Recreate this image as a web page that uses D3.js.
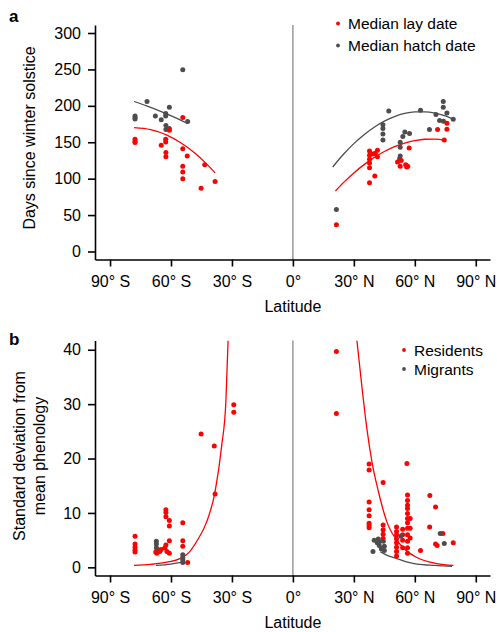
<!DOCTYPE html>
<html>
<head>
  <meta charset="utf-8">
  <title>Phenology by latitude</title>
  <script src="https://d3js.org/d3.v7.min.js"></script>
  <style>
    body { margin: 0; background: #fff; }
    text { font-family: "Liberation Sans", Arial, Helvetica, sans-serif; }
  </style>
</head>
<body>
  <div id="chart"></div>

  <script>
    // ---- data: [latitude, value] ----
    var xTicks = [-90, -60, -30, 0, 30, 60, 90];
    var xTickLabels = ['90° S', '60° S', '30° S', '0°', '30° N', '60° N', '90° N'];
    var yTicksA = [0, 50, 100, 150, 200, 250, 300];
    var yTicksB = [0, 10, 20, 30, 40];

    // panel a: median lay date (red)
    var layDate = [
      [-54.2, 184], [-60.8, 166.5], [-77.7, 154], [-77.7, 151.5], [-77.7, 149.6],
      [-62.6, 154], [-62.6, 150.4], [-64.8, 146], [-62.5, 136], [-62.5, 130],
      [-54.2, 141], [-52, 131], [-54.2, 117], [-54.2, 109], [-54.2, 100],
      [-43.4, 119], [-45.2, 87], [-38.3, 96],
      [21.4, 36.7], [37.7, 138], [37.7, 132], [37.7, 126.6], [37.7, 121.5], [37.7, 115],
      [37.7, 94.5], [39.4, 134], [41.6, 139], [41.6, 130], [40.5, 135], [40.3, 103.6],
      [51.5, 123], [53.3, 125], [52.8, 117], [55.5, 119], [56.5, 117], [56, 116],
      [57.2, 142], [71.2, 167.5], [75.8, 176], [75.8, 168], [74.5, 153]
    ];
    // panel a: median hatch date (grey)
    var hatchDate = [
      [-54.2, 249.5], [-71.8, 206], [-60.8, 198], [-77.7, 186], [-77.7, 183.5], [-77.7, 182],
      [-67.7, 186], [-62.6, 189.5], [-62.6, 186], [-64.8, 181], [-62.5, 173], [-62.5, 167.5],
      [-60.8, 169], [-51.8, 178.5],
      [21.4, 57.8], [47.2, 193], [44.3, 174], [44.3, 169], [44.3, 161.5], [44.3, 153],
      [62.8, 194], [52.8, 150], [52.8, 143], [52.8, 131], [52.5, 127.5], [55.1, 164],
      [54.1, 158], [57.4, 162], [67.2, 167.5], [70.4, 188], [74, 206], [74, 198],
      [75.8, 190], [72.2, 180], [74.1, 179], [78.9, 181.6]
    ];
    // panel a fitted curves
    var layFitS = [[-78.2, 170], [-70, 167.3], [-62, 159.8], [-55, 148.9], [-48, 134.4], [-43, 121.7], [-38.3, 108]];
    var layFitN = [[20.9, 83], [25, 94.9], [30, 107.9], [35, 119.3], [40, 129.1], [45, 137.3], [50, 144],
                   [55, 148.9], [60, 152.3], [65, 154.1], [70, 154.3], [74.5, 153]];
    var hatchFitS = [[-78.2, 206], [-72, 199.9], [-66, 193.5], [-60.5, 187], [-56, 181.4], [-51.8, 175.7]];
    var hatchFitN = [[19.6, 116], [25, 133.8], [30, 148.1], [35, 160.4], [40, 170.7], [45, 179], [50, 185.2],
                     [55, 189.5], [60, 191.6], [65, 191.8], [70, 190], [75, 186.1], [79, 181.5]];

    // panel b: residents (red)
    var residents = [
      [-29.1, 29.9], [-29.1, 28.5], [-45.2, 24.5], [-38.7, 22.3], [-38.3, 13.5],
      [-62.5, 10.6], [-62.5, 10.1], [-62.5, 9.3], [-60.8, 8.6], [-60.8, 7.6], [-54.2, 8.2],
      [-77.7, 5.7], [-77.7, 4.3], [-77.7, 3.7], [-77.7, 3.2], [-77.7, 2.8],
      [-54.2, 4.9], [-54.2, 3.9], [-60.8, 4.9], [-62.5, 4.1], [-67.5, 2.8], [-66.5, 3.3],
      [-64.8, 3.3], [-63, 3.6], [-62, 2.9], [-60.8, 2.6], [-65.5, 2.9], [-67, 2.6], [-51.8, 0.9],
      [21.4, 39.7], [21.4, 28.3], [37.5, 19], [37.5, 17.9], [56.1, 19.1], [44.4, 15.6],
      [37.5, 12], [37.5, 10.6], [37.5, 9.5], [37.5, 8.1], [37.5, 7.7], [37.5, 7.3],
      [67.4, 13.2], [70.2, 11.1], [67.3, 7.4],
      [56.4, 13.3], [56.4, 12.3], [56.4, 11.4], [56.4, 10.8], [56.4, 9.9], [56.4, 9.0],
      [56.4, 8.2], [56.4, 7.2], [56.4, 6.0], [56.4, 4.8], [56.4, 3.6], [56.4, 2.6],
      [57.7, 9], [57.7, 7.2], [57.7, 5.4],
      [51, 7.4], [51, 6.6], [51, 6.0], [51, 5.2], [51, 4.5], [51, 3.7], [51, 2.9], [51, 2.1],
      [54, 7], [54, 6], [54, 5], [54, 3.6],
      [44.4, 7.8], [44.4, 6.9], [44.4, 6.1], [44.4, 5.3],
      [71, 4.0], [70.2, 4.3], [73.8, 6.2], [78.9, 4.5], [62.8, 3.1]
    ];
    // panel b: migrants (grey)
    var migrants = [
      [-67.2, 4.8], [-67.2, 4.3], [-67.2, 3.6], [-54.2, 2.3], [-54.2, 1.8], [-54.2, 1.4], [-54.2, 0.9],
      [39.4, 2.9], [40, 5.0], [42, 5.2], [41.5, 4.5], [42.5, 4.0], [43.5, 3.4], [44.5, 4.8],
      [45, 3.9], [45, 3.1], [42.5, 4.7], [53.1, 5.7], [72.5, 6.2], [74.5, 4.4]
    ];
    // panel b fitted curves
    var resFitS = [[-78.2, 0.35], [-70, 0.55], [-62, 0.95], [-55.6, 1.6], [-51, 2.8], [-47.3, 4.8],
                   [-42.4, 8.4], [-38.3, 13.9], [-35, 22.5], [-33, 30.4], [-31.9, 41.7]];
    var resFitN = [[31.5, 41.7], [33.9, 33.4], [36.4, 25.5], [38.9, 19.4], [42.1, 13.9], [46.2, 8.4],
                   [52.8, 4.2], [61, 1.8], [70.8, 0.7], [79, 0.37]];
    var migFitS = [[-67.4, 0.37], [-60, 0.6], [-53.9, 1.0]];
    var migFitN = [[43, 2.9], [47, 2.1], [51.2, 1.6], [56, 1.0], [61, 0.6], [70, 0.35], [78.3, 0.2]];

    var RED = '#ff0000';
    var GREY = '#4d4d4d';

    var svg = d3.select('#chart').append('svg')
      .attr('width', 497)
      .attr('height', 632);

    var x = d3.scaleLinear().domain([-97.4, 97]).range([95, 490]);
    var yA = d3.scaleLinear().domain([-11, 311]).range([259.5, 25]);
    var yB = d3.scaleLinear().domain([-1.5, 41.7]).range([575.5, 340.5]);

    function drawPanel(y, yTicks, opts) {
      var g = svg.append('g');
      var top = y.range()[1], bottom = y.range()[0];

      g.append('clipPath').attr('id', opts.id)
        .append('rect')
        .attr('x', 95).attr('y', top)
        .attr('width', 395).attr('height', bottom - top);

      // vertical line at the equator
      g.append('line')
        .attr('x1', x(0)).attr('x2', x(0))
        .attr('y1', top).attr('y2', bottom)
        .attr('stroke', '#666').attr('stroke-width', 1);

      var plot = g.append('g').attr('clip-path', 'url(#' + opts.id + ')');
      var line = d3.line()
        .x(function(d) { return x(d[0]); })
        .y(function(d) { return y(d[1]); })
        .curve(d3.curveMonotoneX);

      opts.fits.forEach(function(f) {
        plot.append('path')
          .attr('d', line(f.data))
          .attr('fill', 'none')
          .attr('stroke', f.color)
          .attr('stroke-width', 1.3);
      });

      opts.points.forEach(function(p) {
        plot.selectAll(null)
          .data(p.data)
          .enter()
          .append('circle')
          .attr('cx', function(d) { return x(d[0]); })
          .attr('cy', function(d) { return y(d[1]); })
          .attr('r', 2.5)
          .attr('fill', p.color);
      });

      var xAxis = g.append('g')
        .attr('transform', 'translate(0,' + bottom + ')')
        .call(d3.axisBottom(x).tickValues(xTicks)
          .tickFormat(function(d, i) { return xTickLabels[i]; })
          .tickSize(7).tickSizeOuter(0).tickPadding(9));
      var yAxis = g.append('g')
        .attr('transform', 'translate(95,0)')
        .call(d3.axisLeft(y).tickValues(yTicks).tickSize(7).tickSizeOuter(0).tickPadding(7));

      [xAxis, yAxis].forEach(function(a) {
        a.selectAll('path, line').attr('stroke', '#000').attr('stroke-width', 1.6);
        a.selectAll('text').attr('font-size', '16px').attr('fill', '#000')
          .attr('font-family', '"Liberation Sans", Arial, sans-serif');
      });

      g.append('text')
        .attr('x', x(0))
        .attr('y', bottom + 52)
        .attr('text-anchor', 'middle')
        .attr('font-size', '16px')
        .text('Latitude');

      opts.ylabel.forEach(function(l) {
        g.append('text')
          .attr('transform', 'translate(' + l.x + ',' + opts.ylabelY + ') rotate(-90)')
          .attr('text-anchor', 'middle')
          .attr('font-size', '16px')
          .text(l.text);
      });

      g.append('text')
        .attr('x', 9)
        .attr('y', opts.tagY)
        .attr('font-size', '17px')
        .attr('font-weight', 'bold')
        .text(opts.tag);

      opts.legend.forEach(function(l, i) {
        var cy = opts.legendY + i * opts.legendStep;
        g.append('circle')
          .attr('cx', opts.legendX).attr('cy', cy).attr('r', 1.9)
          .attr('fill', l.color);
        g.append('text')
          .attr('x', opts.legendX + 10)
          .attr('y', cy + 5.5)
          .attr('font-size', '15.5px')
          .text(l.text);
      });
    }

    drawPanel(yA, yTicksA, {
      id: 'clipA',
      tag: 'a', tagY: 22,
      ylabel: [{ x: 35, text: 'Days since winter solstice' }], ylabelY: 138,
      fits: [
        { data: hatchFitS, color: GREY }, { data: hatchFitN, color: GREY },
        { data: layFitS, color: RED }, { data: layFitN, color: RED }
      ],
      points: [{ data: hatchDate, color: GREY }, { data: layDate, color: RED }],
      legend: [{ text: 'Median lay date', color: RED }, { text: 'Median hatch date', color: GREY }],
      legendX: 338, legendY: 23.5, legendStep: 22
    });

    drawPanel(yB, yTicksB, {
      id: 'clipB',
      tag: 'b', tagY: 345,
      ylabel: [{ x: 25, text: 'Standard deviation from' }, { x: 45, text: 'mean phenology' }], ylabelY: 456,
      fits: [
        { data: migFitS, color: GREY }, { data: migFitN, color: GREY },
        { data: resFitS, color: RED }, { data: resFitN, color: RED }
      ],
      points: [{ data: residents, color: RED }, { data: migrants, color: GREY }],
      legend: [{ text: 'Residents', color: RED }, { text: 'Migrants', color: GREY }],
      legendX: 404, legendY: 350, legendStep: 19
    });
  </script>
</body>
</html>
